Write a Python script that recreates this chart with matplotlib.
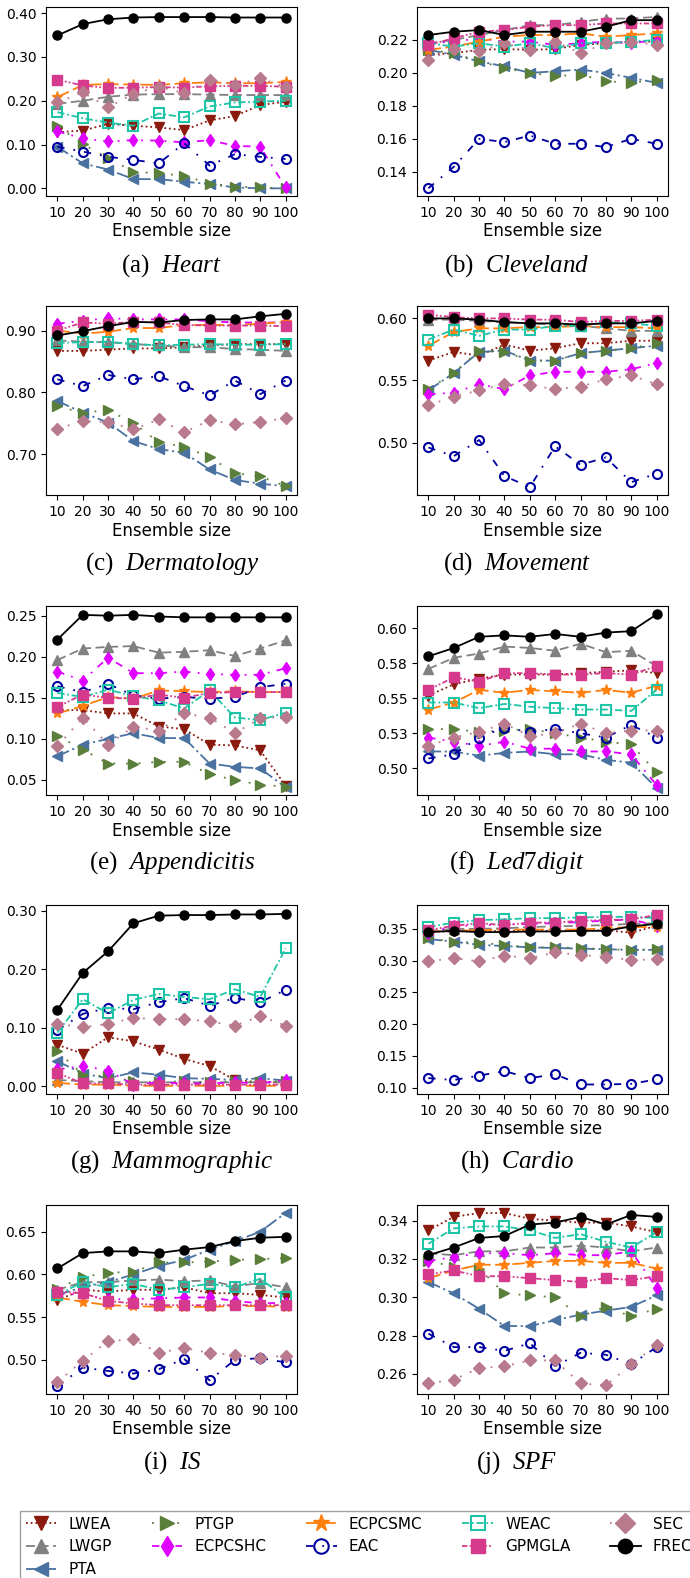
"""Clustering quality vs. ensemble size on ten datasets (10 panels + shared legend)."""

import matplotlib

matplotlib.use("Agg")
import matplotlib.pyplot as plt
from matplotlib.ticker import FixedLocator, FixedFormatter, FormatStrFormatter

ENSEMBLE_SIZES = [10, 20, 30, 40, 50, 60, 70, 80, 90, 100]
METHODS = ["LWEA", "LWGP", "PTA", "PTGP", "ECPCSHC", "ECPCSMC",
           "EAC", "WEAC", "GPMGLA", "SEC", "FREC"]

HEART = {
    "LWEA": [0.128, 0.132, 0.147, 0.143, 0.139, 0.133, 0.155, 0.165, 0.190, 0.198],
    "LWGP": [0.193, 0.200, 0.209, 0.214, 0.215, 0.215, 0.214, 0.213, 0.213, 0.213],
    "PTA": [0.095, 0.057, 0.043, 0.021, 0.021, 0.015, 0.010, 0.002, 0.000, 0.000],
    "PTGP": [0.142, 0.101, 0.069, 0.038, 0.034, 0.029, 0.011, 0.004, 0.002, 0.000],
    "ECPCSHC": [0.130, 0.114, 0.107, 0.110, 0.109, 0.105, 0.110, 0.097, 0.095, 0.002],
    "ECPCSMC": [0.208, 0.236, 0.238, 0.237, 0.236, 0.240, 0.242, 0.240, 0.240, 0.243],
    "EAC": [0.095, 0.084, 0.072, 0.065, 0.057, 0.103, 0.052, 0.078, 0.072, 0.067],
    "WEAC": [0.174, 0.160, 0.150, 0.143, 0.171, 0.162, 0.187, 0.196, 0.198, 0.200],
    "GPMGLA": [0.248, 0.235, 0.229, 0.230, 0.231, 0.230, 0.233, 0.234, 0.234, 0.232],
    "SEC": [0.196, 0.219, 0.185, 0.216, 0.232, 0.217, 0.248, 0.236, 0.251, 0.231],
    "FREC": [0.349, 0.375, 0.386, 0.390, 0.391, 0.391, 0.391, 0.390, 0.390, 0.390],
}

CLEVELAND = {
    "LWEA": [0.211, 0.212, 0.214, 0.2145, 0.214, 0.2145, 0.217, 0.218, 0.219, 0.219],
    "LWGP": [0.218, 0.220, 0.223, 0.226, 0.229, 0.229, 0.231, 0.233, 0.233, 0.234],
    "PTA": [0.214, 0.211, 0.207, 0.204, 0.200, 0.201, 0.202, 0.200, 0.197, 0.194],
    "PTGP": [0.214, 0.212, 0.207, 0.203, 0.200, 0.198, 0.199, 0.195, 0.194, 0.196],
    "ECPCSHC": [0.218, 0.219, 0.221, 0.219, 0.219, 0.217, 0.218, 0.219, 0.218, 0.220],
    "ECPCSMC": [0.214, 0.216, 0.219, 0.222, 0.223, 0.223, 0.224, 0.222, 0.223, 0.224],
    "EAC": [0.130, 0.143, 0.160, 0.158, 0.162, 0.157, 0.157, 0.155, 0.160, 0.157],
    "WEAC": [0.218, 0.216, 0.218, 0.216, 0.218, 0.215, 0.218, 0.218, 0.219, 0.220],
    "GPMGLA": [0.217, 0.221, 0.225, 0.226, 0.228, 0.229, 0.229, 0.230, 0.230, 0.230],
    "SEC": [0.208, 0.2145, 0.213, 0.218, 0.214, 0.219, 0.212, 0.218, 0.219, 0.217],
    "FREC": [0.223, 0.225, 0.226, 0.223, 0.225, 0.225, 0.225, 0.228, 0.232, 0.232],
}

DERMATOLOGY = {
    "LWEA": [0.867, 0.867, 0.869, 0.871, 0.871, 0.873, 0.876, 0.878, 0.878, 0.878],
    "LWGP": [0.884, 0.882, 0.881, 0.878, 0.876, 0.873, 0.873, 0.870, 0.869, 0.867],
    "PTA": [0.786, 0.767, 0.751, 0.721, 0.708, 0.702, 0.675, 0.658, 0.652, 0.648],
    "PTGP": [0.777, 0.767, 0.771, 0.750, 0.719, 0.712, 0.695, 0.669, 0.664, 0.648],
    "ECPCSHC": [0.911, 0.916, 0.920, 0.918, 0.918, 0.918, 0.915, 0.913, 0.913, 0.913],
    "ECPCSMC": [0.900, 0.895, 0.898, 0.904, 0.904, 0.909, 0.909, 0.909, 0.911, 0.914],
    "EAC": [0.821, 0.810, 0.828, 0.821, 0.826, 0.810, 0.795, 0.819, 0.797, 0.819],
    "WEAC": [0.880, 0.881, 0.882, 0.878, 0.876, 0.877, 0.878, 0.877, 0.877, 0.878],
    "GPMGLA": [0.900, 0.913, 0.911, 0.914, 0.913, 0.909, 0.908, 0.908, 0.908, 0.907],
    "SEC": [0.741, 0.753, 0.752, 0.740, 0.756, 0.735, 0.755, 0.748, 0.752, 0.758],
    "FREC": [0.892, 0.899, 0.907, 0.914, 0.913, 0.917, 0.918, 0.918, 0.923, 0.927],
}

MOVEMENT = {
    "LWEA": [0.566, 0.573, 0.570, 0.579, 0.574, 0.576, 0.580, 0.580, 0.582, 0.582],
    "LWGP": [0.599, 0.599, 0.598, 0.597, 0.596, 0.595, 0.594, 0.592, 0.590, 0.590],
    "PTA": [0.542, 0.556, 0.573, 0.574, 0.566, 0.566, 0.572, 0.574, 0.576, 0.578],
    "PTGP": [0.543, 0.556, 0.574, 0.573, 0.566, 0.566, 0.572, 0.574, 0.576, 0.580],
    "ECPCSHC": [0.539, 0.540, 0.547, 0.543, 0.554, 0.557, 0.557, 0.557, 0.559, 0.564],
    "ECPCSMC": [0.578, 0.589, 0.592, 0.592, 0.593, 0.593, 0.594, 0.593, 0.593, 0.592],
    "EAC": [0.496, 0.489, 0.502, 0.473, 0.464, 0.497, 0.482, 0.488, 0.468, 0.475],
    "WEAC": [0.583, 0.591, 0.586, 0.591, 0.591, 0.594, 0.594, 0.597, 0.596, 0.594],
    "GPMGLA": [0.603, 0.601, 0.600, 0.600, 0.599, 0.599, 0.597, 0.598, 0.598, 0.599],
    "SEC": [0.530, 0.537, 0.542, 0.547, 0.546, 0.543, 0.545, 0.551, 0.554, 0.547],
    "FREC": [0.600, 0.600, 0.599, 0.597, 0.596, 0.596, 0.595, 0.596, 0.596, 0.598],
}

APPENDICITIS = {
    "LWEA": [0.135, 0.135, 0.131, 0.131, 0.115, 0.112, 0.093, 0.092, 0.086, 0.043],
    "LWGP": [0.196, 0.210, 0.212, 0.213, 0.205, 0.206, 0.208, 0.201, 0.210, 0.220],
    "PTA": [0.079, 0.093, 0.100, 0.107, 0.101, 0.101, 0.070, 0.066, 0.064, 0.041],
    "PTGP": [0.104, 0.087, 0.070, 0.070, 0.072, 0.072, 0.057, 0.050, 0.044, 0.042],
    "ECPCSHC": [0.182, 0.171, 0.199, 0.180, 0.180, 0.182, 0.179, 0.178, 0.178, 0.186],
    "ECPCSMC": [0.131, 0.140, 0.151, 0.149, 0.159, 0.158, 0.157, 0.158, 0.157, 0.157],
    "EAC": [0.164, 0.157, 0.167, 0.153, 0.149, 0.151, 0.149, 0.151, 0.163, 0.167],
    "WEAC": [0.156, 0.151, 0.160, 0.152, 0.147, 0.137, 0.159, 0.126, 0.123, 0.132],
    "GPMGLA": [0.139, 0.154, 0.150, 0.149, 0.154, 0.150, 0.156, 0.157, 0.157, 0.157],
    "SEC": [0.091, 0.126, 0.093, 0.115, 0.110, 0.131, 0.126, 0.107, 0.125, 0.127],
    "FREC": [0.221, 0.251, 0.250, 0.251, 0.249, 0.248, 0.248, 0.248, 0.248, 0.248],
}

LED7DIGIT = {
    "LWEA": [0.552, 0.560, 0.564, 0.567, 0.567, 0.567, 0.568, 0.569, 0.570, 0.568],
    "LWGP": [0.571, 0.579, 0.582, 0.587, 0.586, 0.584, 0.589, 0.583, 0.584, 0.573],
    "PTA": [0.512, 0.512, 0.509, 0.511, 0.512, 0.510, 0.510, 0.506, 0.504, 0.486],
    "PTGP": [0.528, 0.528, 0.526, 0.527, 0.528, 0.525, 0.522, 0.519, 0.517, 0.497],
    "ECPCSHC": [0.522, 0.519, 0.516, 0.519, 0.514, 0.514, 0.512, 0.512, 0.510, 0.488],
    "ECPCSMC": [0.542, 0.547, 0.556, 0.554, 0.556, 0.555, 0.554, 0.556, 0.554, 0.559],
    "EAC": [0.507, 0.510, 0.522, 0.529, 0.526, 0.528, 0.525, 0.522, 0.531, 0.522],
    "WEAC": [0.547, 0.547, 0.543, 0.546, 0.544, 0.543, 0.542, 0.542, 0.541, 0.556],
    "GPMGLA": [0.556, 0.565, 0.562, 0.568, 0.568, 0.567, 0.567, 0.568, 0.567, 0.573],
    "SEC": [0.516, 0.522, 0.526, 0.532, 0.523, 0.525, 0.532, 0.525, 0.527, 0.527],
    "FREC": [0.580, 0.586, 0.594, 0.595, 0.594, 0.596, 0.594, 0.597, 0.598, 0.610],
}

MAMMOGRAPHIC = {
    "LWEA": [0.071, 0.056, 0.084, 0.077, 0.063, 0.047, 0.035, 0.011, 0.007, 0.007],
    "LWGP": [0.011, 0.009, 0.007, 0.007, 0.007, 0.007, 0.007, 0.007, 0.007, 0.007],
    "PTA": [0.043, 0.022, 0.014, 0.024, 0.020, 0.014, 0.013, 0.011, 0.014, 0.010],
    "PTGP": [0.060, 0.020, 0.017, 0.009, 0.007, 0.009, 0.007, 0.009, 0.007, 0.009],
    "ECPCSHC": [0.029, 0.035, 0.027, 0.003, 0.007, 0.005, 0.005, 0.007, 0.005, 0.011],
    "ECPCSMC": [0.006, 0.003, 0.003, 0.001, 0.001, 0.001, 0.001, 0.001, 0.001, 0.001],
    "EAC": [0.096, 0.124, 0.134, 0.132, 0.144, 0.151, 0.138, 0.151, 0.144, 0.165],
    "WEAC": [0.092, 0.149, 0.125, 0.148, 0.158, 0.153, 0.149, 0.166, 0.153, 0.236],
    "GPMGLA": [0.023, 0.005, 0.005, 0.003, 0.003, 0.003, 0.003, 0.003, 0.003, 0.003],
    "SEC": [0.107, 0.101, 0.107, 0.117, 0.115, 0.115, 0.111, 0.104, 0.120, 0.104],
    "FREC": [0.131, 0.194, 0.231, 0.279, 0.292, 0.293, 0.293, 0.294, 0.294, 0.295],
}

CARDIO = {
    "LWEA": [0.346, 0.346, 0.346, 0.347, 0.347, 0.347, 0.348, 0.348, 0.344, 0.355],
    "LWGP": [0.347, 0.350, 0.350, 0.351, 0.353, 0.354, 0.355, 0.356, 0.358, 0.359],
    "PTA": [0.334, 0.330, 0.325, 0.323, 0.321, 0.320, 0.319, 0.318, 0.317, 0.317],
    "PTGP": [0.335, 0.330, 0.328, 0.325, 0.321, 0.321, 0.320, 0.318, 0.317, 0.318],
    "ECPCSHC": [0.344, 0.354, 0.356, 0.357, 0.358, 0.359, 0.361, 0.363, 0.365, 0.355],
    "ECPCSMC": [0.346, 0.347, 0.348, 0.349, 0.349, 0.349, 0.349, 0.351, 0.353, 0.353],
    "EAC": [0.115, 0.112, 0.119, 0.126, 0.115, 0.121, 0.105, 0.105, 0.106, 0.113],
    "WEAC": [0.353, 0.360, 0.364, 0.365, 0.367, 0.367, 0.368, 0.369, 0.369, 0.367],
    "GPMGLA": [0.348, 0.355, 0.359, 0.356, 0.360, 0.360, 0.363, 0.364, 0.365, 0.372],
    "SEC": [0.299, 0.304, 0.299, 0.308, 0.304, 0.313, 0.309, 0.306, 0.301, 0.302],
    "FREC": [0.345, 0.347, 0.345, 0.345, 0.346, 0.346, 0.347, 0.347, 0.354, 0.358],
}

IS = {
    "LWEA": [0.570, 0.582, 0.580, 0.582, 0.582, 0.585, 0.578, 0.578, 0.576, 0.573],
    "LWGP": [0.582, 0.591, 0.591, 0.593, 0.594, 0.592, 0.593, 0.586, 0.590, 0.585],
    "PTA": [0.576, 0.585, 0.591, 0.600, 0.610, 0.617, 0.629, 0.639, 0.650, 0.672],
    "PTGP": [0.583, 0.597, 0.602, 0.603, 0.614, 0.614, 0.615, 0.617, 0.618, 0.619],
    "ECPCSHC": [0.578, 0.576, 0.571, 0.571, 0.572, 0.573, 0.573, 0.569, 0.566, 0.567],
    "ECPCSMC": [0.573, 0.568, 0.564, 0.563, 0.562, 0.562, 0.562, 0.563, 0.563, 0.562],
    "EAC": [0.469, 0.491, 0.487, 0.484, 0.489, 0.501, 0.476, 0.500, 0.502, 0.497],
    "WEAC": [0.576, 0.591, 0.585, 0.589, 0.582, 0.585, 0.589, 0.585, 0.595, 0.573],
    "GPMGLA": [0.580, 0.578, 0.569, 0.566, 0.564, 0.564, 0.564, 0.564, 0.564, 0.564],
    "SEC": [0.474, 0.499, 0.522, 0.524, 0.508, 0.514, 0.508, 0.506, 0.502, 0.505],
    "FREC": [0.607, 0.625, 0.627, 0.627, 0.625, 0.629, 0.632, 0.639, 0.643, 0.644],
}

SPF = {
    "LWEA": [0.335, 0.342, 0.344, 0.344, 0.341, 0.340, 0.339, 0.339, 0.337, 0.334],
    "LWGP": [0.323, 0.322, 0.324, 0.324, 0.326, 0.326, 0.327, 0.326, 0.324, 0.326],
    "PTA": [0.308, 0.302, 0.294, 0.285, 0.285, 0.288, 0.291, 0.293, 0.295, 0.301],
    "PTGP": [0.319, 0.316, 0.315, 0.302, 0.301, 0.300, 0.290, 0.295, 0.290, 0.294],
    "ECPCSHC": [0.319, 0.321, 0.323, 0.323, 0.322, 0.323, 0.322, 0.322, 0.324, 0.305],
    "ECPCSMC": [0.310, 0.314, 0.317, 0.317, 0.318, 0.319, 0.319, 0.318, 0.318, 0.315],
    "EAC": [0.281, 0.274, 0.274, 0.272, 0.276, 0.264, 0.271, 0.270, 0.265, 0.274],
    "WEAC": [0.328, 0.336, 0.337, 0.337, 0.335, 0.331, 0.333, 0.329, 0.326, 0.334],
    "GPMGLA": [0.312, 0.314, 0.311, 0.311, 0.310, 0.309, 0.308, 0.310, 0.309, 0.311],
    "SEC": [0.255, 0.257, 0.263, 0.264, 0.267, 0.267, 0.255, 0.254, 0.265, 0.275],
    "FREC": [0.322, 0.326, 0.331, 0.332, 0.338, 0.339, 0.342, 0.338, 0.343, 0.342],
}

# (tag, dataset name, values, y-limits, y ticks, y tick labels or None for %.2f)
PANELS = [
    ("(a)", "Heart", HEART, (-0.0175, 0.414), [0.0, 0.1, 0.2, 0.3, 0.4], None),
    ("(b)", "Cleveland", CLEVELAND, (0.1253, 0.240), [0.14, 0.16, 0.18, 0.20, 0.22], None),
    ("(c)", "Dermatology", DERMATOLOGY, (0.6337, 0.9397), [0.70, 0.80, 0.90], None),
    ("(d)", "Movement", MOVEMENT, (0.4577, 0.610), [0.50, 0.55, 0.60], None),
    ("(e)", "Appendicitis", APPENDICITIS, (0.0317, 0.2618),
     [0.05, 0.10, 0.15, 0.20, 0.25], None),
    ("(f)", "Led7digit", LED7DIGIT, (0.4809, 0.616),
     [0.500, 0.525, 0.550, 0.575, 0.600], ["0.50", "0.53", "0.55", "0.58", "0.60"]),
    ("(g)", "Mammographic", MAMMOGRAPHIC, (-0.013, 0.3102), [0.0, 0.1, 0.2, 0.3], None),
    ("(h)", "Cardio", CARDIO, (0.09, 0.3877), [0.10, 0.15, 0.20, 0.25, 0.30, 0.35], None),
    ("(i)", "IS", IS, (0.46, 0.6813), [0.50, 0.55, 0.60, 0.65], None),
    ("(j)", "SPF", SPF, (0.2495, 0.3482), [0.26, 0.28, 0.30, 0.32, 0.34], None),
]

STYLES = {
    "LWEA": dict(color="#8b1a0e", ls=(0, (1, 1.6)), marker="v"),
    "LWGP": dict(color="#808080", ls=(0, (5, 2.5)), marker="^"),
    "PTA": dict(color="#4a72a0", ls=(0, (7, 2, 1.2, 2)), marker="<"),
    "PTGP": dict(color="#5a7f3a", ls=(0, (1, 6)), marker=">"),
    "ECPCSHC": dict(color="#e000ff", ls=(0, (4, 4, 1, 4)), marker="d"),
    "ECPCSMC": dict(color="#ff7f0e", ls=(0, (7, 2.5)), marker="*", ms=8),
    "EAC": dict(color="#0000a0", ls=(0, (4, 5, 1, 5)), marker="o", mfc="none", mew=1.5),
    "WEAC": dict(color="#1ec4a6", ls=(0, (4, 1.5, 1, 1.5)), marker="s", mfc="none", mew=1.5),
    "GPMGLA": dict(color="#d63a8c", ls=(0, (3, 1.2, 1, 1.2, 1, 1.2)), marker="s"),
    "SEC": dict(color="#b87a8c", ls=(0, (1, 5)), marker="D"),
    "FREC": dict(color="black", ls="-", marker="o"),
}

FIG_W, FIG_H = 690, 1578
COL_LEFT = [46, 417]
AX_W, AX_H = 251, 189
ROW_TOP = [7, 306, 606, 905, 1205]
CAPTION_Y = [266, 564, 863, 1162, 1463]
COL_CENTER = [172, 517]

plt.rcParams["mathtext.fontset"] = "custom"
plt.rcParams["mathtext.rm"] = "Liberation Serif"
plt.rcParams["mathtext.it"] = "Liberation Serif:italic"

fig = plt.figure(figsize=(FIG_W / 100, FIG_H / 100), dpi=100)

handles = {}
for i, (tag, name, data, ylim, yticks, ylabels) in enumerate(PANELS):
    row, col = divmod(i, 2)
    ax = fig.add_axes([COL_LEFT[col] / FIG_W, 1 - (ROW_TOP[row] + AX_H) / FIG_H,
                       AX_W / FIG_W, AX_H / FIG_H])
    for m in METHODS:
        st = dict(STYLES[m])
        ms = st.pop("ms", 6.5)
        (ln,) = ax.plot(ENSEMBLE_SIZES, data[m], lw=1.3, ms=ms, label=m,
                        zorder=3 if m == "FREC" else 2, **st)
        handles[m] = ln
    ax.set_xlim(5.5, 104.5)
    ax.set_ylim(*ylim)
    ax.set_xticks(ENSEMBLE_SIZES)
    ax.yaxis.set_major_locator(FixedLocator(yticks))
    if ylabels:
        ax.yaxis.set_major_formatter(FixedFormatter(ylabels))
    else:
        ax.yaxis.set_major_formatter(FormatStrFormatter("%.2f"))
    ax.tick_params(labelsize=10)
    ax.set_xlabel("Ensemble size", fontsize=12, labelpad=2)
    fig.text(COL_CENTER[col] / FIG_W, 1 - CAPTION_Y[row] / FIG_H,
             tag + "  " + r"$\it{" + name + "}$", ha="center", va="center",
             fontsize=18, family="Liberation Serif")

leg = fig.legend([handles[m] for m in METHODS], METHODS, ncol=5,
                 loc="upper left", bbox_to_anchor=(12 / FIG_W, 1 - 1503 / FIG_H),
                 fontsize=11, fancybox=False, edgecolor="#888888",
                 handlelength=2.0, handletextpad=0.8, columnspacing=2.6,
                 labelspacing=0.5, markerscale=1.6, borderpad=0.4)
leg.get_frame().set_linewidth(1.0)

fig.savefig("out.png", dpi=100)
